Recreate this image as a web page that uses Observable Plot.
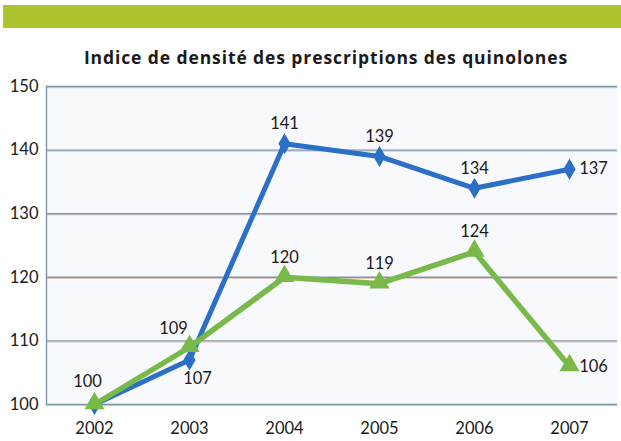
<!DOCTYPE html>
<html>
<head>
<meta charset="utf-8">
<script src="https://cdn.jsdelivr.net/npm/d3@7"></script>
<script src="https://cdn.jsdelivr.net/npm/@observablehq/plot@0.6"></script>
<style>
  html, body { margin: 0; padding: 0; background: #ffffff; }
  body { width: 621px; height: 441px; position: relative; overflow: hidden; font-family: Lato, "Open Sans", sans-serif; }
  #bar { position: absolute; left: 3px; right: 0; top: 5px; height: 23px; background: #adc22d; }
  #title { position: absolute; left: 0; width: 652px; top: 45px; text-align: center; font-family: "Open Sans", sans-serif; font-weight: 700; font-size: 17.5px; color: #1a1a1a; letter-spacing: 0.9px; }
  #chart { position: absolute; left: 0; top: 70px; }
</style>
</head>
<body>
<div id="bar"></div>
<div id="title">Indice de densité des prescriptions des quinolones</div>
<div id="chart"></div>
<script>
const years = ["2002", "2003", "2004", "2005", "2006", "2007"];
const serieBleue = [100, 107, 141, 139, 134, 137];
const serieVerte = [100, 109, 120, 119, 124, 106];
const yTicks = [100, 110, 120, 130, 140, 150];

const rows = [
  ...years.map((year, i) => ({year, value: serieBleue[i], serie: "bleue"})),
  ...years.map((year, i) => ({year, value: serieVerte[i], serie: "verte"}))
];
const blue = "#2b6fc6";
const green = "#79b94a";
const last = years[years.length - 1];
const isLast = d => d.year === last;
const isBelow = d => d.serie === "bleue" && d.year === "2003";
const isLeft = d => d.year === "2002" || (d.serie === "verte" && d.year === "2003");
const isAbove = d => !isLast(d) && !isBelow(d) && !isLeft(d) && !(d.serie === "bleue" && d.year === "2002");

const textOpts = {x: "year", y: "value", text: d => String(d.value), fontSize: 16.5, fill: "#1a1a1a", fontFamily: "Lato, sans-serif"};

const plot = Plot.plot({
  width: 621,
  height: 371,
  marginTop: 16,
  marginBottom: 37,
  marginLeft: 46,
  marginRight: 4,
  style: {fontFamily: "Lato, sans-serif", fontSize: "16.5px", color: "#1a1a1a", background: "transparent", overflow: "visible"},
  x: {type: "point", domain: years, padding: 0.5, label: null, tickSize: 0, tickPadding: 18},
  y: {domain: [100, 150], ticks: yTicks, label: null, tickSize: 0, tickPadding: 8},
  marks: [
    Plot.frame({fill: "#f8f9fc", stroke: null}),
    Plot.ruleY(yTicks, {stroke: "#e6c9c2", strokeWidth: 1, dy: 1.2}),
    Plot.ruleY(yTicks, {stroke: "#7a97a7", strokeWidth: 1.4}),
    Plot.frame({anchor: "left", stroke: "#7a97a7", strokeWidth: 1.4}),
    Plot.line(rows.filter(d => d.serie === "bleue"), {x: "year", y: "value", stroke: blue, strokeWidth: 5}),
    Plot.dot(rows.filter(d => d.serie === "bleue"), {x: "year", y: "value", symbol: "diamond", r: 5.5, fill: blue, stroke: blue}),
    Plot.line(rows.filter(d => d.serie === "verte"), {x: "year", y: "value", stroke: green, strokeWidth: 5.5}),
    Plot.dot(rows.filter(d => d.serie === "verte"), {x: "year", y: "value", symbol: "triangle", r: 6.5, fill: green, stroke: green, dy: -1}),
    Plot.text(rows.filter(isAbove), {...textOpts, dy: -20}),
    Plot.text(rows.filter(isLast), {...textOpts, dx: 24}),
    Plot.text(rows.filter(isBelow), {...textOpts, dx: 8, dy: 19}),
    Plot.text(rows.filter(d => d.serie === "verte" && d.year === "2003"), {...textOpts, dx: -16, dy: -19}),
    Plot.text(rows.filter(d => d.serie === "verte" && d.year === "2002"), {...textOpts, dx: -7, dy: -23})
  ]
});
document.getElementById("chart").appendChild(plot);
</script>
</body>
</html>
